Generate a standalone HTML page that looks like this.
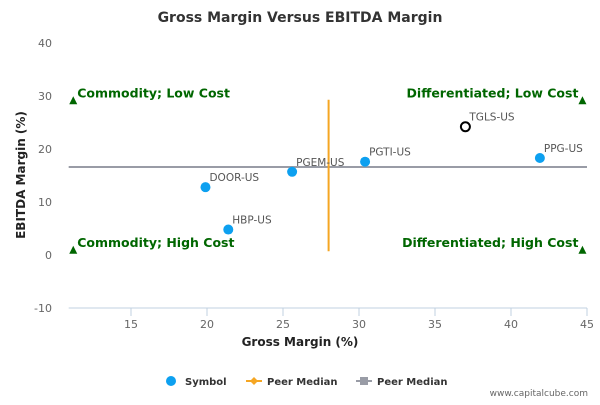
<!DOCTYPE html>
<html><head><meta charset="utf-8"><style>
body{margin:0;background:#fff}
svg{font-family:"DejaVu Sans","Liberation Sans",sans-serif}
</style></head><body>
<svg id="c" width="600" height="400" xmlns="http://www.w3.org/2000/svg">
<text x="300" y="22" text-anchor="middle" font-size="14" font-weight="bold" fill="#333">Gross Margin Versus EBITDA Margin</text>
<g id="axes"></g><g id="marks"></g>
<text x="300" y="346" text-anchor="middle" font-size="12" font-weight="bold" fill="#222">Gross Margin (%)</text>
<text transform="translate(25,175) rotate(-90)" text-anchor="middle" font-size="12" font-weight="bold" fill="#222">EBITDA Margin (%)</text>
<g font-size="10" font-weight="bold" fill="#333">
<g><circle cx="171" cy="381" r="5" fill="#0da0f0"/><text x="185" y="385">Symbol</text></g>
<g><line x1="246" y1="381" x2="262" y2="381" stroke="#f5a623" stroke-width="2"/><path d="M254 377 L258 381 L254 385 L250 381Z" fill="#f5a623"/><text x="267" y="385">Peer Median</text></g>
<g><line x1="356" y1="381" x2="372" y2="381" stroke="#999ca6" stroke-width="2"/><rect x="360" y="377" width="8" height="8" fill="#999ca6"/><text x="377" y="385">Peer Median</text></g>
</g>
<text x="588" y="396" text-anchor="end" font-size="9" fill="#666">www.capitalcube.com</text>
</svg>
<script>
const names=["DOOR-US","HBP-US","PGEM-US","PGTI-US","TGLS-US","PPG-US"];
const gross=[19.9,21.4,25.6,30.4,37.0,41.9];
const ebitda=[12.8,4.8,15.7,17.6,24.2,18.3];
const highlight=[false,false,false,false,true,false];
const medianX=[28.0];
const medianY=[16.6];
const xTicks=[15,20,25,30,35,40,45];
const yTicks=[40,30,20,10,0,-10];
const NS="http://www.w3.org/2000/svg";
const X=v=>131+(v-15)*15.2, Y=v=>255-v*5.3;
const xmin=10.9,xmax=45;
function mk(p,t,a){const e=document.createElementNS(NS,t);for(const k in a)e.setAttribute(k,a[k]);p.appendChild(e);return e;}
const ax=document.getElementById('axes'),mg=document.getElementById('marks');
const xl=mk(ax,'line',{x1:X(xmin),x2:X(xmax),y1:Y(-10),y2:Y(-10),stroke:'#c0d0e0'});


xTicks.forEach(t=>{
 const l=mk(ax,'line',{x1:X(t),x2:X(t),y1:Y(-10),y2:Y(-10)+8,stroke:'#c0d0e0'});
 
 
 const s=mk(ax,'text',{x:X(t),y:Y(-10)+20,'text-anchor':'middle','font-size':11,fill:'#666'});s.textContent=t;
 
 
});
yTicks.forEach(t=>{
 const s=mk(ax,'text',{x:52,y:Y(t)+4,'text-anchor':'end','font-size':11,fill:'#666'});s.textContent=t;
 
 
});
const hl=mk(mg,'line',{x1:X(xmin),x2:X(xmax),y1:Y(medianY[0]),y2:Y(medianY[0]),stroke:'#999ca6','stroke-width':2});


const vl=mk(mg,'line',{x1:X(medianX[0]),x2:X(medianX[0]),y1:Y(0.7),y2:Y(29.3),stroke:'#f5a623','stroke-width':2});


const quads=[["Commodity; Low Cost",11.2,29,'start'],["Commodity; High Cost",11.2,0.8,'start'],["Differentiated; Low Cost",44.7,29,'end'],["Differentiated; High Cost",44.7,0.8,'end']];
quads.forEach(q=>{
 const x=X(q[1]),y=Y(q[2]);
 const p=mk(mg,'path',{d:`M${x} ${y-5} L${x+4} ${y+3} L${x-4} ${y+3}Z`,fill:'#006600'});
 
 
 const t=mk(mg,'text',{x:q[3]=='start'?x+4:x-4,y:y-4,'text-anchor':q[3],'font-size':12.5,'font-weight':'bold',fill:'#006600'});t.textContent=q[0];
 
 
});
names.forEach((n,i)=>{
 const cx=X(gross[i]),cy=Y(ebitda[i]);
 const c=mk(mg,'circle',highlight[i]?{cx,cy,r:4.5,fill:'#fff',stroke:'#000','stroke-width':2}:{cx,cy,r:5,fill:'#0da0f0'});
 
 
 const t=mk(mg,'text',{x:cx+4,y:cy-6,'font-size':10.5,fill:'#555'});t.textContent=n;
 
 
});
</script>
</body></html>
